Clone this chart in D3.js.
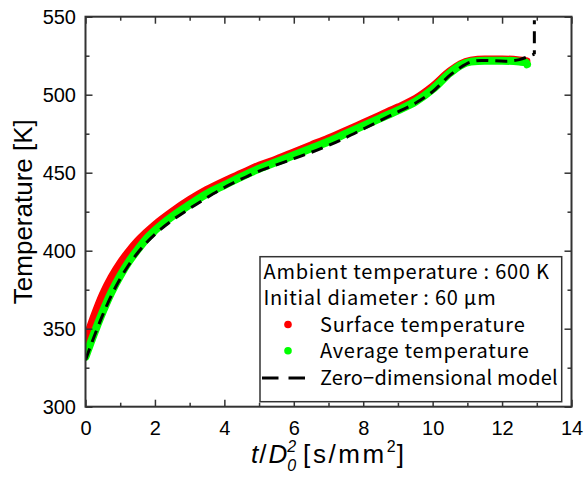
<!DOCTYPE html>
<html>
<head>
<meta charset="utf-8">
<script src="https://cdn.jsdelivr.net/npm/d3@7/dist/d3.min.js"></script>
<style>
    body { margin: 0; background: #ffffff; }
</style>
</head>
<body>
<div id="chart"></div>
<script>
// values
const surface_time = [0, 0.25, 0.5, 0.75, 1.0, 1.25, 1.5, 1.75, 2.0, 2.5, 3.0, 3.5, 4.0, 4.5, 5.0, 5.5, 6.0, 6.5, 7.0, 7.5, 8.0, 8.5, 9.0, 9.5, 10.0, 10.5, 10.8, 11.1, 11.5, 12.0, 12.5, 12.7];
const surface_temp = [342, 358, 372, 383, 392, 399.5, 406, 411.5, 416.5, 425, 432.5, 439, 444.5, 449.5, 454.5, 458.5, 463, 467.5, 472, 476.8, 481.8, 486.8, 491.8, 497.3, 505.2, 515, 519.5, 521.8, 522.6, 522.6, 522, 521.5];

const average_time = [0, 0.25, 0.5, 0.75, 1.0, 1.25, 1.5, 1.75, 2.0, 2.5, 3.0, 3.5, 4.0, 4.5, 5.0, 5.5, 6.0, 6.5, 7.0, 7.5, 8.0, 8.5, 9.0, 9.5, 10.0, 10.5, 10.8, 11.1, 11.5, 12.0, 12.5, 12.7, 12.72];
const average_temp = [332, 347, 361, 373.5, 384, 393, 400.5, 407.5, 413, 422, 429.5, 436.5, 442, 447.5, 452.5, 456.8, 461.2, 465.6, 470, 475, 480, 485, 490, 495.5, 503.5, 514, 518.8, 521.2, 521.8, 521.8, 521.2, 520.5, 519.5];

const model_time = [0, 0.25, 0.5, 0.75, 1.0, 1.25, 1.5, 1.75, 2.0, 2.5, 3.0, 3.5, 4.0, 4.5, 5.0, 5.5, 6.0, 6.5, 7.0, 7.5, 8.0, 8.5, 9.0, 9.5, 10.0, 10.5, 10.8, 11.1, 11.4, 12.1, 12.5, 12.76, 12.93];
const model_temp = [330, 345, 359, 371.5, 382, 391, 398.5, 405, 410.5, 419.5, 427, 434, 440.5, 446, 451, 455, 459, 463, 467.5, 472.5, 478, 483.5, 489, 494.5, 502, 512.5, 517.5, 521, 522, 521.5, 522.5, 524.5, 526];
// the model curve leaves the plot straight upward at its end
const model_jump_time = [12.93, 12.93];
const model_jump_temp = [526, 570];

const x_ticks = [0, 2, 4, 6, 8, 10, 12, 14];
const x_minor = [1, 3, 5, 7, 9, 11, 13];
const y_ticks = [300, 350, 400, 450, 500, 550];
const y_minor = [325, 375, 425, 475, 525];

const legend_notes = ['Ambient temperature : 600 K', 'Initial diameter : 60 μm'];
const legend_names = ['Surface temperature', 'Average temperature', 'Zero\u2212dimensional model'];

(function() {
    const width = 584, height = 477;
    const margins = {top: 16.7, right: 12.5, bottom: 70.3, left: 85.5};
    const plot_w = width - margins.left - margins.right,
        plot_h = height - margins.top - margins.bottom;
    const tick_font = '"Liberation Sans", Arial, sans-serif';
    const jp_font = '"Noto Sans CJK JP", "Noto Sans", sans-serif';
    const frame_color = '#333333';

    let x = d3.scaleLinear().domain([0, 14]).range([0, plot_w]),
        y = d3.scaleLinear().domain([300, 550]).range([plot_h, 0]);

    let svg = d3.select('#chart').append('svg')
        .attr('width', width)
        .attr('height', height)
        .attr('font-family', tick_font);

    svg.append('defs').append('clipPath')
        .attr('id', 'plot-clip')
        .append('rect')
        .attr('width', plot_w)
        .attr('height', plot_h);

    let g = svg.append('g')
        .attr('transform', 'translate(' + margins.left + ',' + margins.top + ')');

    let pairs = (ts, vs) => ts.map((t, i) => ({t: t, v: vs[i]}));
    let line = d3.line()
        .x((d) => x(d.t))
        .y((d) => y(d.v))
        .curve(d3.curveMonotoneX);
    let straight = d3.line()
        .x((d) => x(d.t))
        .y((d) => y(d.v));

    let series = g.append('g').attr('clip-path', 'url(#plot-clip)');

    series.append('path').datum(pairs(surface_time, surface_temp))
        .attr('fill', 'none')
        .attr('stroke', '#ff0000')
        .attr('stroke-width', 8)
        .attr('stroke-linecap', 'round')
        .attr('stroke-linejoin', 'round')
        .attr('d', line);

    series.append('path').datum(pairs(average_time, average_temp))
        .attr('fill', 'none')
        .attr('stroke', '#00ff00')
        .attr('stroke-width', 8)
        .attr('stroke-linecap', 'round')
        .attr('stroke-linejoin', 'round')
        .attr('d', line);

    series.append('path').datum(pairs(model_time, model_temp))
        .attr('fill', 'none')
        .attr('stroke', '#000000')
        .attr('stroke-width', 3)
        .attr('stroke-dasharray', '12,7')
        .attr('d', line);

    series.append('path').datum(pairs(model_jump_time, model_jump_temp))
        .attr('fill', 'none')
        .attr('stroke', '#000000')
        .attr('stroke-width', 3)
        .attr('stroke-dasharray', '4,7,12,7')
        .attr('d', straight);

    // axes, ticks pointing inward on all four sides
    let style_axis = function(sel) {
        sel.select('.domain').remove();
        sel.selectAll('line').attr('stroke', frame_color).attr('stroke-width', 1.5);
        sel.selectAll('text').attr('fill', '#000000').attr('font-size', 20);
    };

    g.append('g')
        .attr('transform', 'translate(0,' + plot_h + ')')
        .call(d3.axisBottom(x).tickValues(x_ticks).tickSize(-7).tickPadding(14).tickFormat(d3.format('d')))
        .call(style_axis);
    g.append('g')
        .attr('transform', 'translate(0,' + plot_h + ')')
        .call(d3.axisBottom(x).tickValues(x_minor).tickSize(-4).tickFormat(''))
        .call(style_axis);
    g.append('g')
        .call(d3.axisTop(x).tickValues(x_ticks).tickSize(-7).tickFormat(''))
        .call(style_axis);
    g.append('g')
        .call(d3.axisTop(x).tickValues(x_minor).tickSize(-4).tickFormat(''))
        .call(style_axis);

    g.append('g')
        .call(d3.axisLeft(y).tickValues(y_ticks).tickSize(-7).tickPadding(9.5).tickFormat(d3.format('d')))
        .call(style_axis);
    g.append('g')
        .call(d3.axisLeft(y).tickValues(y_minor).tickSize(-4).tickFormat(''))
        .call(style_axis);
    g.append('g')
        .attr('transform', 'translate(' + plot_w + ',0)')
        .call(d3.axisRight(y).tickValues(y_ticks).tickSize(-7).tickFormat(''))
        .call(style_axis);
    g.append('g')
        .attr('transform', 'translate(' + plot_w + ',0)')
        .call(d3.axisRight(y).tickValues(y_minor).tickSize(-4).tickFormat(''))
        .call(style_axis);

    g.append('rect')
        .attr('width', plot_w)
        .attr('height', plot_h)
        .attr('fill', 'none')
        .attr('stroke', frame_color)
        .attr('stroke-width', 2);

    // axis titles
    svg.append('text')
        .attr('transform', 'translate(32,' + (margins.top + plot_h / 2) + ') rotate(-90)')
        .attr('text-anchor', 'middle')
        .attr('font-size', 26)
        .attr('fill', '#000000')
        .text('Temperature [K]');

    let xlabel = svg.append('text')
        .attr('x', 251)
        .attr('y', 463)
        .attr('font-size', 26)
        .attr('fill', '#000000');
    xlabel.append('tspan').attr('font-style', 'italic').text('t');
    xlabel.append('tspan').attr('dx', 1).text('/');
    xlabel.append('tspan').attr('font-style', 'italic').attr('dx', 2).text('D');
    xlabel.append('tspan').attr('font-style', 'italic').attr('font-size', 16).attr('dy', -11).text('2');
    xlabel.append('tspan').attr('font-style', 'italic').attr('font-size', 16).attr('dx', -9).attr('dy', 19).text('0');
    xlabel.append('tspan').attr('dx', 7).attr('dy', -8).attr('letter-spacing', 2.6).text('[s/mm');
    xlabel.append('tspan').attr('font-size', 16).attr('dy', -11).text('2');
    xlabel.append('tspan').attr('dx', 1).attr('dy', 11).text(']');

    // legend
    let legend = svg.append('g').attr('font-family', jp_font).attr('font-size', 20);

    legend.append('rect')
        .attr('x', 260)
        .attr('y', 256.7)
        .attr('width', 301.7)
        .attr('height', 145)
        .attr('fill', '#ffffff')
        .attr('stroke', frame_color)
        .attr('stroke-width', 1.5);

    legend.selectAll('text.note')
        .data(legend_notes)
        .enter().append('text')
        .attr('class', 'note')
        .attr('x', 263.5)
        .attr('y', (d, i) => 279 + 26.3 * i)
        .attr('letter-spacing', 0.75)
        .attr('fill', '#000000')
        .text((d) => d);

    legend.selectAll('text.name')
        .data(legend_names)
        .enter().append('text')
        .attr('class', 'name')
        .attr('x', 320)
        .attr('y', (d, i) => 332 + 26.3 * i)
        .attr('letter-spacing', (d, i) => i < 2 ? 0.75 : 0.2)
        .attr('fill', '#000000')
        .text((d) => d);

    legend.append('circle').attr('cx', 288).attr('cy', 324.5).attr('r', 3.8).attr('fill', '#ff0000');
    legend.append('circle').attr('cx', 288).attr('cy', 350.8).attr('r', 3.8).attr('fill', '#00ff00');
    legend.append('line')
        .attr('x1', 262).attr('x2', 305)
        .attr('y1', 378).attr('y2', 378)
        .attr('stroke', '#000000')
        .attr('stroke-width', 3)
        .attr('stroke-dasharray', '16.5,10');
}());
</script>
</body>
</html>
